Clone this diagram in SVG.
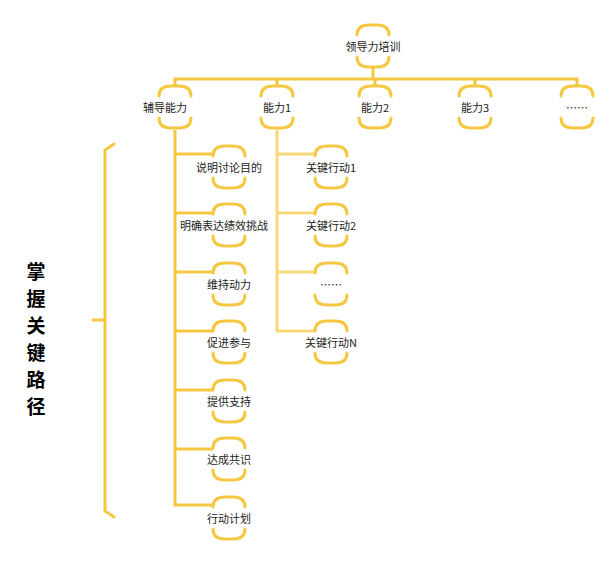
<svg xmlns="http://www.w3.org/2000/svg" xmlns:xlink="http://www.w3.org/1999/xlink" width="616" height="563" viewBox="0 0 616 563">
<style>
.b{fill:none;stroke:#f5c842;stroke-width:3;stroke-linecap:round}
.c{fill:none;stroke:#f5c842;stroke-width:3}
.c2{fill:none;stroke:#f8d97a;stroke-width:3}
text{font-family:"Noto Sans CJK SC","Noto Sans",sans-serif;font-size:11px;fill:#222;text-anchor:middle}
.t{font-size:19px;font-weight:bold;fill:#000}
</style>
<defs>
<g id="br"><path class="b" d="M-16,-12 Q-16,-22 -4,-22 L4,-22 Q16,-22 16,-12"/><path class="b" d="M-16,10 Q-16,20 -4,20 L4,20 Q16,20 16,10"/></g>
</defs>
<g id="connectors">
<path class="c" d="M373,68V79M175,87V79H577V87M277,79V87M375,79V87M475,79V87"/>
<path class="c" d="M175,130V505H213M175,154H213M175,213H213M175,272H213M175,331H213M175,390H213M175,449H213"/>
<path class="c2" d="M277,130V331H314M277,154H314M277,213H314M277,272H314"/>
<path class="b" d="M114,144L105,150V511L114,517M93,320H105"/>
</g>
<g id="n0"><use xlink:href="#br" x="373" y="47"/><text x="373" y="51">领导力培训</text></g>
<g id="n1"><use xlink:href="#br" x="175" y="108"/><text x="165" y="112">辅导能力</text></g>
<g id="n2"><use xlink:href="#br" x="277" y="108"/><text x="277" y="112">能力1</text></g>
<g id="n3"><use xlink:href="#br" x="375" y="108"/><text x="375" y="112">能力2</text></g>
<g id="n4"><use xlink:href="#br" x="475" y="108"/><text x="475" y="112">能力3</text></g>
<g id="n5"><use xlink:href="#br" x="577" y="108"/><text x="577" y="112">……</text></g>
<g id="a1"><use xlink:href="#br" x="229" y="168"/><text x="229" y="172">说明讨论目的</text></g>
<g id="a2"><use xlink:href="#br" x="229" y="226"/><text x="224" y="230">明确表达绩效挑战</text></g>
<g id="a3"><use xlink:href="#br" x="229" y="285"/><text x="229" y="289">维持动力</text></g>
<g id="a4"><use xlink:href="#br" x="229" y="343"/><text x="229" y="347">促进参与</text></g>
<g id="a5"><use xlink:href="#br" x="229" y="402"/><text x="229" y="406">提供支持</text></g>
<g id="a6"><use xlink:href="#br" x="229" y="460"/><text x="229" y="464">达成共识</text></g>
<g id="a7"><use xlink:href="#br" x="229" y="519"/><text x="229" y="523">行动计划</text></g>
<g id="k1"><use xlink:href="#br" x="331" y="168"/><text x="331" y="172">关键行动1</text></g>
<g id="k2"><use xlink:href="#br" x="331" y="226"/><text x="331" y="230">关键行动2</text></g>
<g id="k3"><use xlink:href="#br" x="331" y="285"/><text x="331" y="289">……</text></g>
<g id="k4"><use xlink:href="#br" x="331" y="343"/><text x="331" y="347">关键行动N</text></g>
<g id="title">
<text class="t" x="36" y="279">掌</text><text class="t" x="36" y="306">握</text><text class="t" x="36" y="333">关</text><text class="t" x="36" y="360">键</text><text class="t" x="36" y="387">路</text><text class="t" x="36" y="414">径</text>
</g>
</svg>
